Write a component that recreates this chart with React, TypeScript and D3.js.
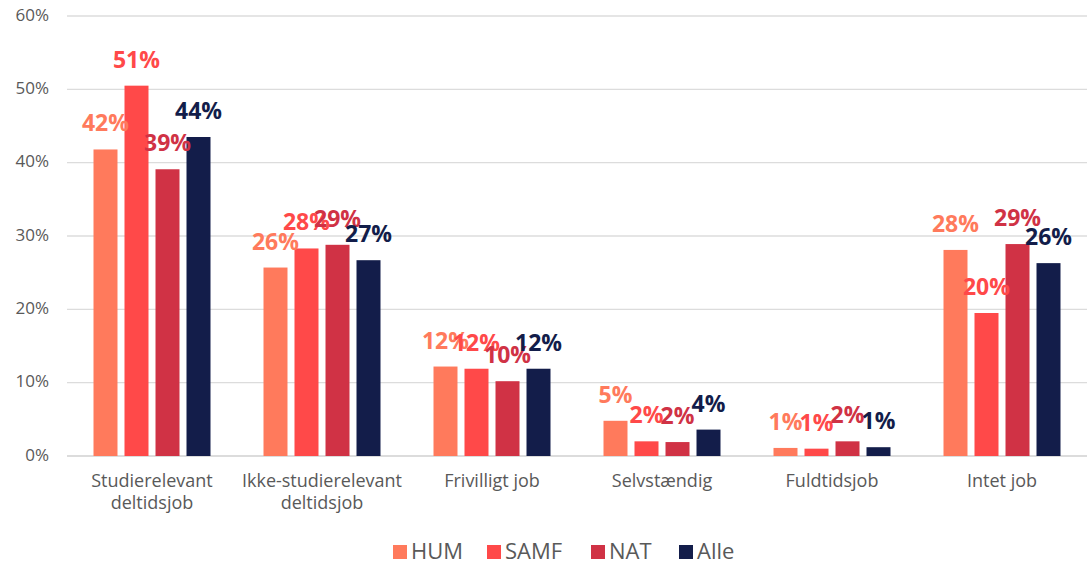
import { useEffect, useRef } from "react"
import * as d3 from "d3"

const categories = [
  ["Studierelevant", "deltidsjob"],
  ["Ikke-studierelevant", "deltidsjob"],
  ["Frivilligt job"],
  ["Selvstændig"],
  ["Fuldtidsjob"],
  ["Intet job"],
]
const seriesNames = ["HUM", "SAMF", "NAT", "Alle"]
const seriesColors = ["#FF7A5C", "#FF4949", "#D03245", "#131D4A"]
const HUM = [41.8, 25.7, 12.2, 4.8, 1.1, 28.1]
const SAMF = [50.5, 28.3, 11.9, 2.0, 1.0, 19.5]
const NAT = [39.1, 28.8, 10.2, 1.9, 2.0, 28.9]
const Alle = [43.5, 26.7, 11.9, 3.6, 1.2, 26.3]
const yTicks = [0, 10, 20, 30, 40, 50, 60]

const W = 1089
const H = 565
const FONT = "'Open Sans', sans-serif"

export default function App() {
  const svgRef = useRef<SVGSVGElement>(null)

  useEffect(() => {
    document.body.style.margin = "0"
    if (!svgRef.current) return
    const svg = d3.select(svgRef.current)
    svg.selectAll("*").remove()

    const values = [HUM, SAMF, NAT, Alle]
    const keys = categories.map((c) => c.join(" "))

    const x0 = d3.scaleBand<string>().domain(keys).range([67, 1087]).padding(0)
    const x1 = d3
      .scaleBand<string>()
      .domain(seriesNames)
      .range([26.5, 143.5])
      .paddingInner(0.226)
      .paddingOuter(0)
    const y = d3.scaleLinear().domain([0, 60]).range([456, 16])

    // gridlines
    svg
      .append("g")
      .selectAll("line")
      .data(yTicks)
      .join("line")
      .attr("x1", 67)
      .attr("x2", 1087)
      .attr("y1", (d) => y(d))
      .attr("y2", (d) => y(d))
      .attr("stroke", "#dcdcdc")
      .attr("stroke-width", (d) => (d === 0 ? 2 : 1.3))

    // y tick labels
    svg
      .append("g")
      .selectAll("text")
      .data(yTicks)
      .join("text")
      .attr("x", 49)
      .attr("y", (d) => y(d))
      .attr("text-anchor", "end")
      .attr("dominant-baseline", "middle")
      .attr("font-family", FONT)
      .attr("font-size", 17)
      .attr("fill", "#595959")
      .text((d) => `${d}%`)

    // bars
    const groups = svg
      .append("g")
      .selectAll("g")
      .data(keys)
      .join("g")
      .attr("transform", (d) => `translate(${x0(d)},0)`)

    seriesNames.forEach((s, si) => {
      groups
        .append("rect")
        .attr("x", x1(s)!)
        .attr("width", x1.bandwidth())
        .attr("y", (_, i) => y(values[si][i]))
        .attr("height", (_, i) => y(0) - y(values[si][i]))
        .attr("fill", seriesColors[si])
    })

    // value labels
    seriesNames.forEach((s, si) => {
      groups
        .append("text")
        .attr("x", x1(s)! + x1.bandwidth() / 2)
        .attr("y", (_, i) => y(values[si][i]) - 18)
        .attr("text-anchor", "middle")
        .attr("font-family", FONT)
        .attr("font-weight", 700)
        .attr("font-size", 23)
        .attr("fill", seriesColors[si])
        .text((_, i) => `${Math.round(values[si][i])}%`)
    })

    // category labels
    groups.each(function (d, i) {
      const t = d3
        .select(this)
        .append("text")
        .attr("text-anchor", "middle")
        .attr("font-family", FONT)
        .attr("font-size", 18)
        .attr("fill", "#595959")
      categories[i].forEach((line, li) => {
        t.append("tspan")
          .attr("x", x0.bandwidth() / 2)
          .attr("y", 487 + li * 22)
          .text(line)
      })
    })

    // legend
    const legendX = [393, 487, 591, 679]
    const legend = svg.append("g")
    seriesNames.forEach((s, si) => {
      legend
        .append("rect")
        .attr("x", legendX[si])
        .attr("y", 545)
        .attr("width", 14)
        .attr("height", 14)
        .attr("fill", seriesColors[si])
      legend
        .append("text")
        .attr("x", legendX[si] + 18)
        .attr("y", 559)
        .attr("font-family", FONT)
        .attr("font-size", 22)
        .attr("fill", "#595959")
        .text(s)
    })
  }, [])

  return <svg ref={svgRef} width={W} height={H} style={{ display: "block" }} />
}
